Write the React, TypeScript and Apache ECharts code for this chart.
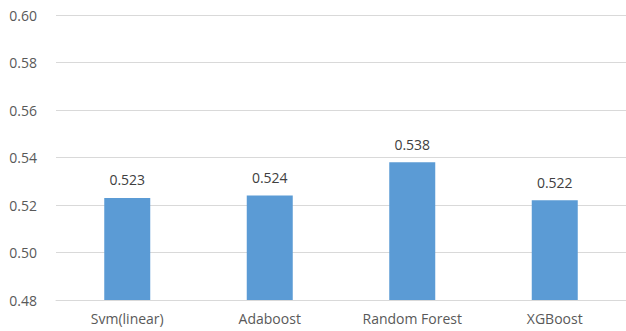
import React, { useEffect, useRef } from "react";
import * as echarts from "echarts";

const categories = ["Svm(linear)", "Adaboost", "Random Forest", "XGBoost"];
const scores = [0.523, 0.524, 0.538, 0.522];

export default function App() {
  const ref = useRef<HTMLDivElement>(null);
  useEffect(() => {
    if (!ref.current) return;
    const chart = echarts.init(ref.current, null, { renderer: "svg" });
    chart.setOption({
      animation: false,
      grid: { left: 56, top: 15, width: 579, bottom: 31, containLabel: false },
      xAxis: {
        type: "category",
        data: categories,
        axisTick: { show: false },
        axisLine: { lineStyle: { color: "#d9d9d9" } },
        axisLabel: { color: "#595959", fontSize: 14, fontFamily: "Open Sans", margin: 11 },
      },
      yAxis: {
        type: "value",
        min: 0.48,
        max: 0.6,
        interval: 0.02,
        axisLine: { show: false },
        axisTick: { show: false },
        splitLine: { lineStyle: { color: "#d9d9d9" } },
        axisLabel: {
          color: "#595959",
          fontSize: 14,
          fontFamily: "Open Sans",
          margin: 19,
          formatter: (v: number) => v.toFixed(2),
        },
      },
      series: [
        {
          type: "bar",
          data: scores,
          barWidth: 46,
          itemStyle: { color: "#5b9bd5" },
          label: {
            show: true,
            position: "top",
            distance: 11,
            color: "#404040",
            fontSize: 14,
            fontFamily: "Open Sans",
            formatter: (p: any) => p.value.toFixed(3),
          },
        },
      ],
    });
    return () => chart.dispose();
  }, []);
  return (
    <div
      ref={ref}
      style={{ position: "fixed", left: 0, top: 0, width: 626, height: 331, background: "#fff" }}
    />
  );
}
